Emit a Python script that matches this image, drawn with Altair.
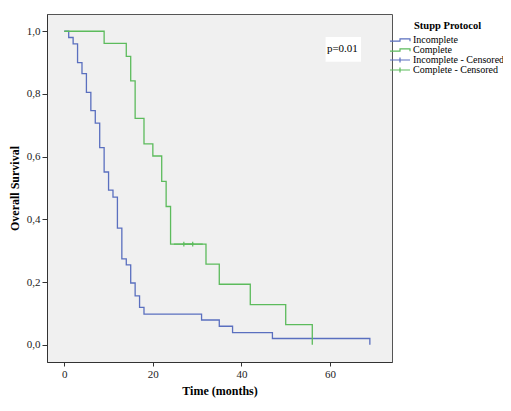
import altair as alt
import pandas as pd

# ---- data ----
inc_time = [0, 1, 2, 3, 4, 5, 6, 7, 8, 9, 10, 11, 12, 13, 14, 15, 16, 17, 18, 31, 35, 38, 47, 69]
inc_surv = [1.0, 0.98, 0.96, 0.90, 0.865, 0.805, 0.747, 0.707, 0.629, 0.551, 0.493, 0.471, 0.372,
            0.274, 0.255, 0.197, 0.156, 0.119, 0.098, 0.079, 0.059, 0.039, 0.02, 0.0]
com_time = [0, 9, 14, 15, 16, 18, 20, 22, 23, 24, 32, 35, 42, 50, 56]
com_surv = [1.0, 0.961, 0.92, 0.842, 0.722, 0.641, 0.602, 0.521, 0.441, 0.321, 0.257, 0.193,
            0.128, 0.064, 0.0]
cens_time = [27, 29]
cens_surv = [0.321, 0.321]

series_names = ["Incomplete", "Complete", "Incomplete - Censored", "Complete - Censored"]
series_colors = ["#5a6fbf", "#5cbb5c", "#5a6fbf", "#5cbb5c"]
x_ticks = [0, 20, 40, 60]
y_ticks = [0.0, 0.2, 0.4, 0.6, 0.8, 1.0]
legend_title = "Stupp Protocol"
p_label = ["p=0.01"]
p_time = [62.8]
p_surv = [0.942]
p_box_time = [59.0, 67.0]
p_box_surv = [0.903, 0.982]

FONT = "Liberation Serif"

curves = pd.DataFrame({
    "time": inc_time + com_time,
    "surv": inc_surv + com_surv,
    "series": ["Incomplete"] * len(inc_time) + ["Complete"] * len(com_time),
})
cens = pd.DataFrame({"time": cens_time, "surv": cens_surv,
                     "series": ["Complete - Censored"] * len(cens_time)})

step_path = "M-5,0.6H0V-0.6H5V0.6"
cross_path = "M-5,0H5M0,-1.2V1.2"
series_shapes = [step_path, step_path, cross_path, cross_path]

xscale = alt.Scale(domain=[-3.9, 74], nice=False, zero=False)
yscale = alt.Scale(domain=[-0.055, 1.055], nice=False, zero=False)

legend = alt.Legend(orient="none", legendX=348, legendY=21, title=None)

x_enc = alt.X("time:Q", scale=xscale,
              axis=alt.Axis(values=x_ticks, title="Time (months)", grid=False,
                            tickSize=4, labelPadding=2, titlePadding=6,
                            labelFont=FONT, labelFontSize=11, labelColor="#222",
                            titleFont=FONT, titleFontSize=12, titleFontWeight="bold",
                            titleColor="#000", domainColor="#333", tickColor="#333"))
y_enc = alt.Y("surv:Q", scale=yscale,
              axis=alt.Axis(values=y_ticks, title="Overall Survival", grid=False,
                            tickSize=5, labelPadding=2, titlePadding=5,
                            labelExpr="replace(format(datum.value, '.1f'), '.', ',')",
                            labelFont=FONT, labelFontSize=11, labelColor="#222",
                            titleFont=FONT, titleFontSize=12, titleFontWeight="bold",
                            titleColor="#000", domainColor="#333", tickColor="#333"))

color = alt.Color("series:N", scale=alt.Scale(domain=series_names, range=series_colors),
                  legend=legend, title=None)
shape = alt.Shape("series:N", scale=alt.Scale(domain=series_names, range=series_shapes),
                  legend=legend, title=None)

lines = alt.Chart(curves).mark_line(interpolate="step-after", strokeWidth=1.3).encode(
    x=x_enc, y=y_enc, color=color, detail="series:N")

cens_pts = alt.Chart(cens).mark_point(filled=False, size=16, strokeWidth=1.2, opacity=1).encode(
    x="time:Q", y="surv:Q", color=color, shape=shape)

pbox = alt.Chart(pd.DataFrame({"t0": [p_box_time[0]], "t1": [p_box_time[1]],
                               "s0": [p_box_surv[0]], "s1": [p_box_surv[1]]})).mark_rect(
    fill="white").encode(x="t0:Q", x2="t1", y="s0:Q", y2="s1")

ptext = alt.Chart(pd.DataFrame({"time": p_time, "surv": p_surv, "label": p_label})).mark_text(
    font=FONT, fontSize=11, color="#000", align="center", baseline="middle").encode(
    x="time:Q", y="surv:Q", text="label:N")

ltitle = alt.Chart(pd.DataFrame({"label": [legend_title]})).mark_text(
    font=FONT, fontSize=10.5, fontWeight="bold", color="#000", align="left",
    baseline="middle").encode(x=alt.value(367), y=alt.value(12), text="label:N")

chart = alt.layer(pbox, lines, cens_pts, ptext, ltitle).properties(
    width=345, height=348,
    autosize=alt.AutoSizeParams(type="none"),
    padding={"left": 39, "top": 6, "right": 111, "bottom": 41},
    background="white",
).configure_view(
    fill="#f0f0f0", stroke="#555", strokeWidth=1
).configure_legend(
    padding=0, labelFont=FONT, labelFontSize=10, labelColor="#000", labelLimit=200,
    symbolSize=16, symbolStrokeWidth=1.2, labelOffset=8, rowPadding=0,
)

chart.save("out.html", embed_options={"renderer": "svg", "actions": False})
